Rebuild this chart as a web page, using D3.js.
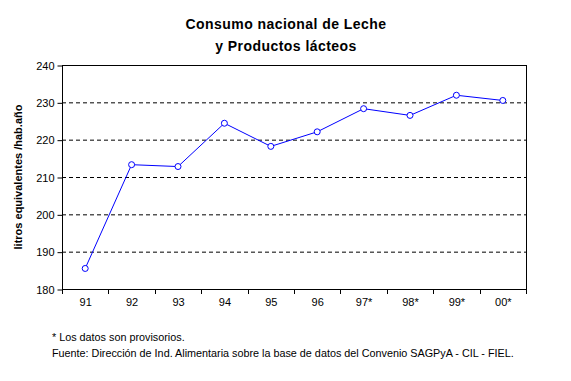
<!DOCTYPE html>
<html><head><meta charset="utf-8">
<script src="https://cdn.jsdelivr.net/npm/d3@7"></script>
<style>body{margin:0;background:#fff}svg{display:block}text{font-family:"Liberation Sans",Arial,sans-serif}</style>
</head><body>
<script>
const years = ["91","92","93","94","95","96","97*","98*","99*","00*"];
const consumo = [185.5,213.3,212.8,224.4,218.2,222.1,228.3,226.5,231.9,230.5];
const yTicks = [180,190,200,210,220,230,240];
const gridTicks = [190,200,210,220,230];

const W=571,H=381;
const m={l:62,r:526,t:65,b:289};
const svg=d3.select("body").append("svg").attr("width",W).attr("height",H);
const x=d3.scaleBand().domain(years).range([m.l,m.r]);
const y=d3.scaleLinear().domain([180,240]).range([m.b,m.t]);

svg.append("g").selectAll("line").data(gridTicks).join("line")
 .attr("x1",m.l).attr("x2",m.r).attr("y1",d=>y(d)+0.5).attr("y2",d=>y(d)+0.5)
 .attr("stroke","#000").attr("stroke-dasharray","4,3");

svg.append("rect").attr("x",m.l+0.5).attr("y",m.t+0.5).attr("width",m.r-m.l).attr("height",m.b-m.t)
 .attr("fill","none").attr("stroke","#000");

const ya=svg.append("g").attr("transform",`translate(${m.l+0.5},0.5)`)
 .call(d3.axisLeft(y).tickValues(yTicks).tickSize(5).tickPadding(3));
ya.select(".domain").remove();
ya.selectAll("text").attr("font-size",11).attr("font-family","Liberation Sans,Arial");

const xa=svg.append("g").attr("transform",`translate(0.5,${m.b+0.5})`)
 .call(d3.axisBottom(x).tickSize(0).tickPadding(9));
xa.select(".domain").remove();
xa.selectAll("text").attr("font-size",11).attr("font-family","Liberation Sans,Arial");
svg.append("g").selectAll("line").data(years).join("line")
 .attr("x1",d=>Math.round(x(d))+0.5).attr("x2",d=>Math.round(x(d))+0.5)
 .attr("y1",m.b).attr("y2",m.b+5).attr("stroke","#000");
svg.append("line").attr("x1",m.r+0.5).attr("x2",m.r+0.5).attr("y1",m.b).attr("y2",m.b+5).attr("stroke","#000");

const cx=d=>x(d)+x.bandwidth()/2;
svg.append("path").datum(years.map((d,i)=>[cx(d),y(consumo[i])]))
 .attr("d",d3.line()).attr("fill","none").attr("stroke","#0000ff").attr("stroke-width",1);
svg.append("g").selectAll("circle").data(years).join("circle")
 .attr("cx",d=>cx(d)).attr("cy",(d,i)=>y(consumo[i])).attr("r",3)
 .attr("fill","#fff").attr("stroke","#0000ff").attr("stroke-width",1);

svg.append("text").attr("x",286).attr("y",29).attr("text-anchor","middle").attr("letter-spacing",0.45)
 .attr("font-size",14).attr("font-weight","bold").text("Consumo nacional de Leche");
svg.append("text").attr("x",286).attr("y",51).attr("text-anchor","middle").attr("letter-spacing",0.45)
 .attr("font-size",14).attr("font-weight","bold").text("y Productos lácteos");
svg.append("text").attr("transform",`translate(22,177) rotate(-90)`).attr("text-anchor","middle")
 .attr("font-size",11).attr("font-weight","bold").text("litros equivalentes /hab.año");

svg.append("text").attr("x",52).attr("y",341).attr("font-size",10.8).text("* Los datos son provisorios.");
svg.append("text").attr("x",52).attr("y",357).attr("font-size",10.8)
 .text("Fuente: Dirección de Ind. Alimentaria sobre la base de datos del Convenio SAGPyA - CIL - FIEL.");
</script>
</body></html>
